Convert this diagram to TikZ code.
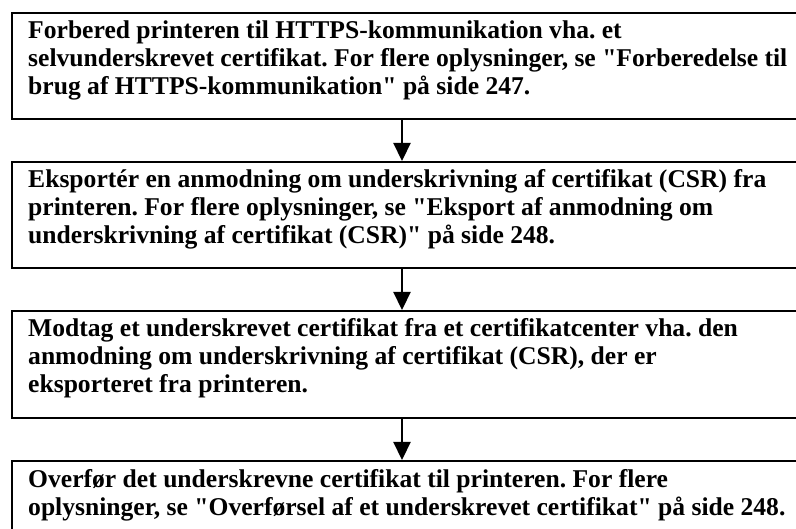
\documentclass[tikz,border=0pt]{standalone}
\usepackage{fontspec}
\setmainfont{Liberation Serif}
\usetikzlibrary{arrows.meta}
\newcommand{\qq}{\textquotedbl}
\frenchspacing
\begin{document}
\begin{tikzpicture}[x=1pt,y=-1pt,
  box/.style={draw, line width=2.2pt},
  txt/.style={anchor=base west, inner sep=0pt, font=\fontsize{25.6}{28}\selectfont\bfseries},
  arr/.style={-{Triangle[width=17pt,length=18pt]}, line width=2.2pt}]
\useasboundingbox (0,0) rectangle (796,529);
\clip (0,0) rectangle (796,529);
% boxes (extend beyond right edge, last one beyond bottom)
\node[box, anchor=north west, minimum width=1000pt, minimum height=106pt, inner sep=0pt] (b1) at (11,12) {};
\node[box, anchor=north west, minimum width=1000pt, minimum height=106pt, inner sep=0pt] (b2) at (11,161) {};
\node[box, anchor=north west, minimum width=1000pt, minimum height=107pt, inner sep=0pt] (b3) at (11,310) {};
\node[box, anchor=north west, minimum width=1000pt, minimum height=106pt, inner sep=0pt] (b4) at (11,460) {};
% texts
\node[txt] (t1a) at (28,39) {Forbered printeren til HTTPS-kommunikation vha. et};
\node[txt] (t1b) at (28,67) {selvunderskrevet certifikat. For flere oplysninger, se \qq Forberedelse til};
\node[txt] (t1c) at (28,95) {brug af HTTPS-kommunikation\qq{} på side 247.};
\node[txt] (t2a) at (28,188) {Eksportér en anmodning om underskrivning af certifikat (CSR) fra};
\node[txt] (t2b) at (28,216) {printeren. For flere oplysninger, se \qq Eksport af anmodning om};
\node[txt] (t2c) at (28,244) {underskrivning af certifikat (CSR)\qq{} på side 248.};
\node[txt] (t3a) at (28,337) {Modtag et underskrevet certifikat fra et certifikatcenter vha. den};
\node[txt] (t3b) at (28,365) {anmodning om underskrivning af certifikat (CSR), der er};
\node[txt] (t3c) at (28,393) {eksporteret fra printeren.};
\node[txt] (t4a) at (28,487) {Overfør det underskrevne certifikat til printeren. For flere};
\node[txt] (t4b) at (28,515) {oplysninger, se \qq Overførsel af et underskrevet certifikat\qq{} på side 248.};
% arrows
\coordinate (ax) at (402,0);
\draw[arr] (b1.south -| ax) -- (b2.north -| ax);
\draw[arr] (b2.south -| ax) -- (b3.north -| ax);
\draw[arr] (b3.south -| ax) -- (b4.north -| ax);
\end{tikzpicture}
\end{document}
